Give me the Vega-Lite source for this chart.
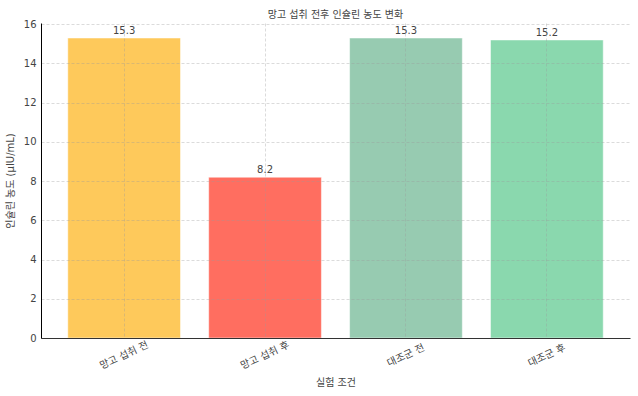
{
  "$schema": "https://vega.github.io/schema/vega-lite/v6.json",
  "width": 589,
  "height": 315,
  "autosize": {"type": "none"},
  "padding": {"left": 41, "top": 23, "right": 8, "bottom": 58},
  "background": "white",
  "config": {
    "font": "DejaVu Sans, Noto Sans CJK KR",
    "view": {"stroke": null},
    "axis": {"labelFont": "DejaVu Sans, Noto Sans CJK KR", "titleFont": "DejaVu Sans, Noto Sans CJK KR"}
  },
  "title": {
    "text": "망고 섭취 전후 인슐린 농도 변화",
    "fontSize": 10,
    "fontWeight": "normal",
    "color": "#444444",
    "offset": -1,
    "font": "DejaVu Sans, Noto Sans CJK KR"
  },
  "data": {
    "values": [
      {"condition": "망고 섭취 전", "insulin": 15.3},
      {"condition": "망고 섭취 후", "insulin": 8.2},
      {"condition": "대조군 전", "insulin": 15.3},
      {"condition": "대조군 후", "insulin": 15.2}
    ]
  },
  "encoding": {
    "x": {
      "field": "condition",
      "type": "nominal",
      "sort": null,
      "scale": {"paddingInner": 0.2, "paddingOuter": 0.19},
      "axis": {
        "title": "실험 조건",
        "titleFontSize": 10,
        "titleFontWeight": "normal",
        "titleColor": "#444444",
        "titlePadding": 7,
        "labelAngle": -25,
        "labelAlign": "center",
        "labelBaseline": "middle",
        "labelPadding": 17,
        "labelFontSize": 10,
        "labelColor": "#444444",
        "ticks": false,
        "tickSize": 0,
        "bandPosition": 0.5,
        "zindex": 1,
        "domainColor": "#333333",
        "domainWidth": 1,
        "grid": true,
        "gridColor": "#999999",
        "gridOpacity": 0.45,
        "gridDash": [3, 2],
        "gridWidth": 0.8
      }
    },
    "y": {
      "field": "insulin",
      "type": "quantitative",
      "scale": {"domain": [0, 16.065], "nice": false, "zero": true},
      "axis": {
        "title": "인슐린 농도 (μIU/mL)",
        "titleFontSize": 10,
        "titleFontWeight": "normal",
        "titleColor": "#444444",
        "titlePadding": 8,
        "values": [0, 2, 4, 6, 8, 10, 12, 14, 16],
        "labelFontSize": 10,
        "labelColor": "#444444",
        "labelPadding": 5,
        "ticks": false,
        "tickSize": 0,
        "zindex": 1,
        "domainColor": "#000000",
        "domainWidth": 1,
        "grid": true,
        "gridColor": "#999999",
        "gridOpacity": 0.45,
        "gridDash": [3, 2],
        "gridWidth": 0.8
      }
    }
  },
  "layer": [
    {
      "mark": {"type": "bar", "stroke": "white", "strokeWidth": 0.5},
      "encoding": {
        "color": {
          "field": "condition",
          "type": "nominal",
          "sort": null,
          "scale": {
            "domain": ["망고 섭취 전", "망고 섭취 후", "대조군 전", "대조군 후"],
            "range": ["#FEC95B", "#FF6E60", "#97CBB1", "#8AD8AE"]
          },
          "legend": null
        }
      }
    },
    {
      "mark": {"type": "text", "baseline": "bottom", "dy": -2, "fontSize": 10, "color": "#444444"},
      "encoding": {
        "text": {"field": "insulin", "type": "quantitative", "format": ".1f"}
      }
    }
  ]
}
